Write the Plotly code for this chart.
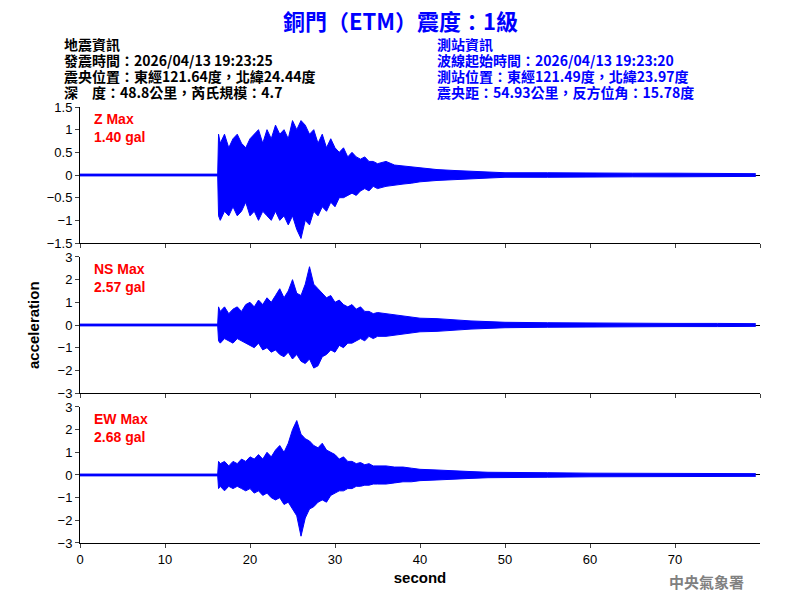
import plotly.graph_objects as go
from plotly.subplots import make_subplots

T = [0,16.2,16.3,16.5,17,17.5,18,18.5,19,19.5,20,20.5,21,21.5,22,22.5,23,23.5,24,24.5,25,25.5,26,26.5,27,27.5,28,28.5,29,29.5,30,30.5,31,31.5,32,32.5,33,33.5,34,34.5,35,36,37,38,39,40,42,44,46,48,50,55,60,65,70,75,79.5]

Z_pos = [0.02,0.02,0.9,0.7,0.9,0.6,0.8,0.9,0.7,0.6,0.8,0.9,1.0,0.7,1.0,0.8,1.1,0.9,1.0,0.8,1.2,1.0,1.2,1.1,0.9,1.0,0.7,0.9,0.6,0.8,0.6,0.5,0.6,0.4,0.5,0.4,0.35,0.4,0.3,0.3,0.25,
         0.3,0.22,0.2,0.18,0.15,0.12,0.1,0.08,0.07,0.05,0.05,0.04,0.04,0.04,0.03,0.03]
Z_neg = [-0.02,-0.02,-0.9,-1.0,-0.8,-0.9,-0.7,-0.9,-0.8,-0.6,-0.9,-0.8,-1.0,-0.8,-0.9,-1.0,-0.8,-1.0,-0.9,-1.1,-0.9,-1.2,-1.4,-1.0,-1.1,-0.8,-0.9,-0.7,-0.8,-0.6,-0.7,-0.5,-0.5,-0.45,-0.4,-0.45,-0.35,-0.3,-0.35,-0.25,-0.3,
         -0.25,-0.22,-0.2,-0.18,-0.15,-0.12,-0.1,-0.08,-0.07,-0.05,-0.05,-0.04,-0.04,-0.04,-0.03,-0.03]

NS_pos = [0.04,0.04,0.8,0.6,0.8,0.5,0.7,0.8,0.6,0.9,1.0,0.8,1.1,0.9,1.2,1.0,1.3,1.6,1.2,1.5,2.0,1.4,1.3,1.8,2.57,1.8,1.6,1.4,1.2,1.3,1.0,1.1,0.9,0.8,0.9,0.7,0.8,0.6,0.6,0.5,0.55,
          0.5,0.45,0.4,0.35,0.3,0.28,0.22,0.18,0.15,0.12,0.1,0.08,0.08,0.07,0.07,0.06]
NS_neg = [-0.04,-0.04,-0.7,-0.8,-0.6,-0.7,-0.8,-0.6,-0.7,-0.8,-0.9,-1.0,-0.8,-1.1,-1.0,-1.2,-1.1,-1.3,-1.4,-1.2,-1.5,-1.3,-1.6,-1.7,-1.5,-1.9,-1.8,-1.4,-1.3,-1.1,-1.2,-0.9,-1.0,-0.8,-0.8,-0.7,-0.6,-0.7,-0.5,-0.6,-0.5,
          -0.5,-0.45,-0.4,-0.35,-0.3,-0.28,-0.22,-0.18,-0.15,-0.12,-0.1,-0.08,-0.08,-0.07,-0.07,-0.06]

EW_pos = [0.04,0.04,0.6,0.5,0.6,0.4,0.6,0.5,0.7,0.6,0.8,0.7,0.9,0.7,1.0,0.8,1.1,1.3,1.0,1.4,2.0,2.4,1.8,1.6,1.5,1.3,1.2,1.4,1.1,1.0,0.9,0.7,0.8,0.6,0.6,0.5,0.55,0.45,0.5,0.4,0.4,
          0.4,0.35,0.35,0.3,0.25,0.22,0.2,0.15,0.12,0.12,0.1,0.08,0.08,0.07,0.07,0.06]
EW_neg = [-0.04,-0.04,-0.6,-0.5,-0.7,-0.5,-0.6,-0.5,-0.6,-0.7,-0.6,-0.8,-0.7,-0.9,-0.8,-1.0,-1.1,-1.0,-1.3,-1.2,-1.5,-1.8,-2.7,-1.9,-1.5,-1.4,-1.2,-1.1,-1.2,-0.9,-0.8,-0.7,-0.7,-0.6,-0.6,-0.5,-0.5,-0.45,-0.45,-0.4,-0.4,
          -0.4,-0.35,-0.3,-0.3,-0.25,-0.22,-0.2,-0.15,-0.12,-0.12,-0.1,-0.08,-0.08,-0.07,-0.07,-0.06]

left_lines = ["地震資訊", "發震時間：2026/04/13 19:23:25", "震央位置：東經121.64度，北緯24.44度", "深　度：48.8公里，芮氏規模：4.7"]
right_lines = ["測站資訊", "波線起始時間：2026/04/13 19:23:20", "測站位置：東經121.49度，北緯23.97度", "震央距：54.93公里，反方位角：15.78度"]

channels = [("Z Max", "1.40 gal", Z_pos, Z_neg, [-1.5, 1.5], 0.5),
            ("NS Max", "2.57 gal", NS_pos, NS_neg, [-3, 3], 1),
            ("EW Max", "2.68 gal", EW_pos, EW_neg, [-3, 3], 1)]

OFF = 8  # page body margin
ML, MR, MT, MB = 80 - OFF, 40 + OFF, 107 - OFF, 57 + OFF
PH = 600 - MT - MB
PW = 800 - ML - MR
def py(p):
    return (600 - MB - (p - OFF)) / PH
def px(p):
    return (p - OFF - ML) / PW

fig = make_subplots(rows=3, cols=1, shared_xaxes=True, vertical_spacing=0.032)
F = "Arial, Liberation Sans, sans-serif"
for i, (name, val, p, n, rng, dt) in enumerate(channels, start=1):
    fig.add_trace(go.Scatter(x=T, y=p, mode="lines", line=dict(color="blue", width=1), showlegend=False), row=i, col=1)
    fig.add_trace(go.Scatter(x=T, y=n, mode="lines", line=dict(color="blue", width=1), fill="tonexty",
                             fillcolor="blue", showlegend=False), row=i, col=1)
    fig.update_yaxes(range=rng, dtick=dt, ticks="outside", ticklen=4, showline=True, linecolor="black",
                     showgrid=False, zeroline=True, zerolinecolor="black", zerolinewidth=1,
                     tickfont=dict(size=13, family=F, color="black"), row=i, col=1)
    fig.update_xaxes(range=[0, 80], dtick=10, ticks="outside", ticklen=4, showline=True, linecolor="black",
                     showgrid=False, zeroline=False, showticklabels=(i == 3),
                     tickfont=dict(size=13, family=F, color="black"), row=i, col=1)
    yd = fig.layout["yaxis" + ("" if i == 1 else str(i))].domain
    fig.add_annotation(xref="paper", yref="paper", x=px(92), y=yd[1] - 0.005, xanchor="left", yanchor="top",
                       text="<b>" + name + "<br>" + val + "</b>", showarrow=False, align="left",
                       font=dict(color="red", size=14, family=F))

fig.update_xaxes(tickvals=[0,10,20,30,40,50,60,70], row=3, col=1)
fig.update_xaxes(title=dict(text="<b>second</b>", font=dict(size=15, family=F, color="black"), standoff=6), row=3, col=1)

CJK = "Noto Sans CJK TC"
fig.add_annotation(xref="paper", yref="paper", x=px(33), y=0.5, text="<b>acceleration</b>", textangle=-90,
                   showarrow=False, xanchor="center", yanchor="middle", font=dict(size=15, family=F, color="black"))
fig.add_annotation(xref="paper", yref="paper", x=px(400), y=py(20), xanchor="center", yanchor="middle",
                   text="<b>銅門（ETM）震度：1級</b>", showarrow=False, font=dict(size=22, family=CJK, color="blue"))
for k, (lt, rt) in enumerate(zip(left_lines, right_lines)):
    yy = py(44 + 16 * k)
    fig.add_annotation(xref="paper", yref="paper", x=px(62), y=yy, xanchor="left", yanchor="middle", text="<b>" + lt + "</b>",
                       showarrow=False, font=dict(size=14, family=CJK, color="black"))
    fig.add_annotation(xref="paper", yref="paper", x=px(435), y=yy, xanchor="left", yanchor="middle", text="<b>" + rt + "</b>",
                       showarrow=False, font=dict(size=14, family=CJK, color="blue"))
fig.add_annotation(xref="paper", yref="paper", x=px(746), y=py(581), xanchor="right", yanchor="middle", text="<b>中央氣象署</b>",
                   showarrow=False, font=dict(size=15, family=CJK, color="gray"))

fig.update_layout(width=800, height=600, plot_bgcolor="white", paper_bgcolor="white",
                  margin=dict(l=ML, r=MR, t=MT, b=MB, autoexpand=False))
fig.write_html("out.html")
